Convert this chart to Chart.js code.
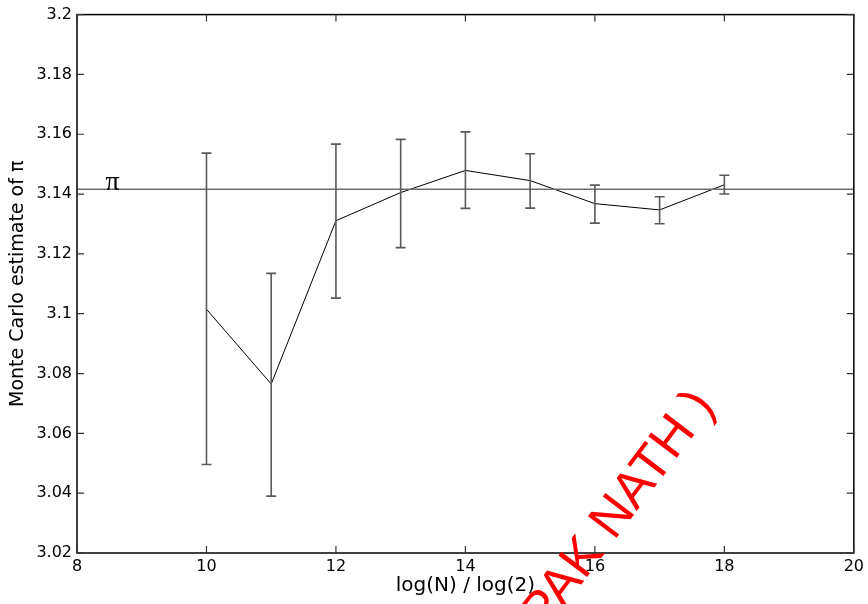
<!DOCTYPE html>
<html>
<head>
<meta charset="utf-8">
<script src="https://cdn.jsdelivr.net/npm/chart.js@4"></script>
<style>
  html, body { margin: 0; padding: 0; background: #ffffff; }
  canvas { display: block; }
</style>
</head>
<body>
<canvas id="c" width="868" height="604"></canvas>
<script>
// ---- data ----
const xVals  = [10, 11, 12, 13, 14, 15, 16, 17, 18];
const means  = [3.1015, 3.0765, 3.1311, 3.1405, 3.1479, 3.1445, 3.1368, 3.1347, 3.1431];
const upper  = [3.1537, 3.1135, 3.1567, 3.1583, 3.1608, 3.1535, 3.1430, 3.1391, 3.1463];
const lower  = [3.0496, 3.0390, 3.1052, 3.1221, 3.1352, 3.1353, 3.1303, 3.1301, 3.1400];
const piValue = 3.14159;
const piLineX = [8, 20];
const xRange = { min: 8, max: 20, step: 2 };
const yRange = { min: 3.02, max: 3.2, step: 0.02 };
const xTitle = 'log(N) / log(2)';
const yTitle = 'Monte Carlo estimate of \u03c0';
const piLabel = '\u03c0';
const piLabelX = 8.55;
const watermark = '( DEEPAK NATH )';

const meanPoints = xVals.map((x, i) => ({ x: x, y: means[i] }));
const piPoints = piLineX.map(x => ({ x: x, y: piValue }));

const SANS = '"DejaVu Sans", "Liberation Sans", Arial, sans-serif';

const frameAndExtras = {
  id: 'frameAndExtras',
  afterDatasetsDraw(chart) {
    const ctx = chart.ctx;
    const a = chart.chartArea;
    const xs = chart.scales.x, ys = chart.scales.y;
    ctx.save();
    // error bars
    ctx.strokeStyle = '#5a5a5a';
    ctx.lineWidth = 1.6;
    xVals.forEach((x, i) => {
      const px = xs.getPixelForValue(x);
      const pt = ys.getPixelForValue(upper[i]);
      const pb = ys.getPixelForValue(lower[i]);
      ctx.beginPath();
      ctx.moveTo(px, pt); ctx.lineTo(px, pb);
      ctx.moveTo(px - 5, pt); ctx.lineTo(px + 5, pt);
      ctx.moveTo(px - 5, pb); ctx.lineTo(px + 5, pb);
      ctx.stroke();
    });
    // frame
    ctx.strokeStyle = '#000000';
    ctx.lineWidth = 1.5;
    ctx.strokeRect(a.left, a.top, a.right - a.left, a.bottom - a.top);
    // inward ticks
    ctx.strokeStyle = '#333333';
    ctx.lineWidth = 1.2;
    const tl = 7;
    xs.ticks.forEach(t => {
      const px = xs.getPixelForValue(t.value);
      ctx.beginPath();
      ctx.moveTo(px, a.bottom); ctx.lineTo(px, a.bottom - tl);
      ctx.moveTo(px, a.top); ctx.lineTo(px, a.top + tl);
      ctx.stroke();
    });
    ys.ticks.forEach(t => {
      const py = ys.getPixelForValue(t.value);
      ctx.beginPath();
      ctx.moveTo(a.left, py); ctx.lineTo(a.left + tl, py);
      ctx.moveTo(a.right, py); ctx.lineTo(a.right - tl, py);
      ctx.stroke();
    });
    // pi label
    ctx.fillStyle = '#000000';
    ctx.font = '28px "Liberation Serif", "DejaVu Serif", serif';
    ctx.textAlign = 'center';
    ctx.textBaseline = 'alphabetic';
    ctx.fillText(piLabel, xs.getPixelForValue(piLabelX), ys.getPixelForValue(piValue) + 1);
    ctx.restore();
  },
  afterDraw(chart) {
    const ctx = chart.ctx;
    ctx.save();
    ctx.translate(716, 406);
    ctx.rotate(-53 * Math.PI / 180);
    ctx.fillStyle = '#ff0000';
    ctx.font = '52px "Liberation Sans", Arial, sans-serif';
    ctx.textAlign = 'right';
    ctx.textBaseline = 'alphabetic';
    ctx.fillText(watermark, 0, 0);
    ctx.restore();
  }
};

const fmt = v => String(Number(v.toFixed(2)));

new Chart(document.getElementById('c'), {
  type: 'line',
  data: {
    datasets: [
      {
        data: piPoints,
        borderColor: '#6e6e6e',
        borderWidth: 1.6,
        pointRadius: 0,
        tension: 0,
        fill: false
      },
      {
        data: meanPoints,
        borderColor: '#000000',
        borderWidth: 1,
        pointRadius: 0,
        tension: 0,
        fill: false
      }
    ]
  },
  options: {
    responsive: false,
    animation: false,
    events: [],
    layout: { padding: { top: 13, right: 11, left: 0, bottom: 0 } },
    plugins: { legend: { display: false }, tooltip: { enabled: false } },
    scales: {
      x: {
        type: 'linear',
        min: xRange.min, max: xRange.max,
        grid: { display: false, drawTicks: false },
        border: { display: false },
        ticks: {
          stepSize: xRange.step,
          color: '#000000',
          padding: 4,
          maxRotation: 0,
          font: { family: SANS, size: 16 },
          callback: v => fmt(v)
        },
        title: {
          display: true,
          text: xTitle,
          color: '#000000',
          padding: { top: 0, bottom: 6 },
          font: { family: SANS, size: 20 }
        },
        afterFit: s => { s.height = 51; }
      },
      y: {
        type: 'linear',
        min: yRange.min, max: yRange.max,
        grid: { display: false, drawTicks: false },
        border: { display: false },
        ticks: {
          stepSize: yRange.step,
          color: '#000000',
          padding: 5,
          font: { family: SANS, size: 16 },
          callback: v => fmt(v)
        },
        title: {
          display: true,
          text: yTitle,
          color: '#000000',
          padding: { top: 7, bottom: 0 },
          font: { family: SANS, size: 19 }
        },
        afterFit: s => { s.width = 77; }
      }
    }
  },
  plugins: [frameAndExtras]
});
</script>
</body>
</html>
